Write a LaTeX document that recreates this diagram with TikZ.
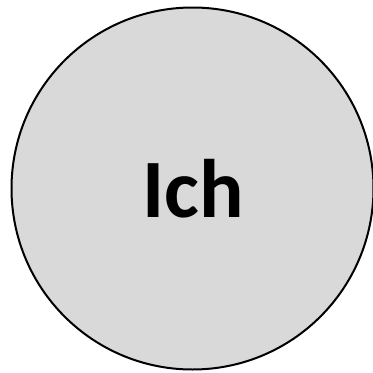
\documentclass[tikz,border=0pt]{standalone}
\usepackage{fontspec}
\setmainfont{Carlito}
\definecolor{circfill}{HTML}{D9D9D9}
\tikzset{
  bubble/.style={circle, draw=black, line width=2pt, fill=circfill, minimum size=362pt, inner sep=0pt},
  label/.style={font=\fontsize{83}{90}\selectfont\bfseries, inner sep=0pt, anchor=base}
}
\begin{document}
\begin{tikzpicture}
\useasboundingbox (0,0) rectangle (373pt,-373pt);
\node[bubble] (c) at (192.5pt,-188.5pt) {};
\node[label] (t) at (193.5pt,-217pt) {Ich};
\end{tikzpicture}
\end{document}
